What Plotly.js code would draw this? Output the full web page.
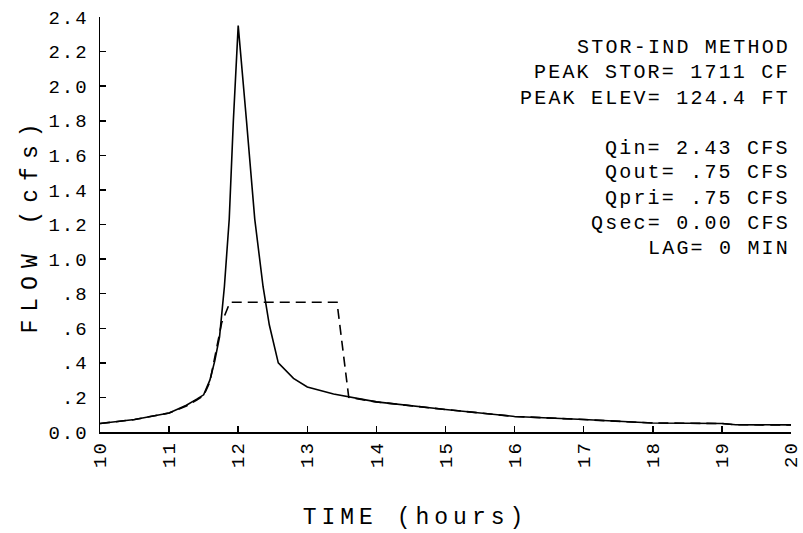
<!DOCTYPE html>
<html>
<head>
<meta charset="utf-8">
<script src="https://cdn.plot.ly/plotly-3.0.1.min.js"></script>
<style>
  html, body { margin: 0; padding: 0; background: #fff; }
  #chart { width: 803px; height: 533px; }
  .xtick text, .ytick text { letter-spacing: 2px; }
  .annotation-text { letter-spacing: 2.2px; }
  .xtitle { letter-spacing: 5px; transform: translate(-30px, 5px); }
  .ytitle { letter-spacing: 8px; }
</style>
</head>
<body>
<div id="chart"></div>
<script>
// Inflow hydrograph (solid)
const inflowTime = [10.0, 10.5, 11.0, 11.25, 11.4, 11.5, 11.59, 11.66, 11.73, 11.80, 11.87, 11.93, 12.0,
                    12.05, 12.12, 12.24, 12.36, 12.45, 12.58, 12.8, 13.0, 13.38, 13.8, 14.0,
                    15.0, 16.0, 17.0, 18.0, 19.0, 19.2, 20.0];
const inflowQ    = [0.049, 0.072, 0.11, 0.155, 0.19, 0.215, 0.30, 0.41, 0.55, 0.84, 1.23, 1.80, 2.35,
                    2.10, 1.80, 1.23, 0.84, 0.62, 0.40, 0.31, 0.26, 0.22, 0.19, 0.174,
                    0.13, 0.09, 0.072, 0.052, 0.049, 0.042, 0.041];
// Outflow hydrograph (dashed)
const outflowTime = [10.0, 10.5, 11.0, 11.25, 11.4, 11.5, 11.59, 11.70, 11.76, 11.88, 13.43, 13.60,
                     14.0, 15.0, 16.0, 17.0, 18.0, 19.0, 19.2, 20.0];
const outflowQ    = [0.049, 0.072, 0.11, 0.15, 0.185, 0.21, 0.29, 0.50, 0.63, 0.75, 0.75, 0.20,
                     0.174, 0.13, 0.09, 0.072, 0.052, 0.049, 0.042, 0.041];

const yTickVals = [0, 0.2, 0.4, 0.6, 0.8, 1.0, 1.2, 1.4, 1.6, 1.8, 2.0, 2.2, 2.4];
const yTickText = ["0.0", ".2", ".4", ".6", ".8", "1.0", "1.2", "1.4", "1.6", "1.8", "2.0", "2.2", "2.4"];
const xTickVals = [10, 11, 12, 13, 14, 15, 16, 17, 18, 19, 20];
const xTickText = ["10", "11", "12", "13", "14", "15", "16", "17", "18", "19", "20"];

const infoLines = ["STOR-IND METHOD", "PEAK STOR= 1711 CF", "PEAK ELEV= 124.4 FT", "",
                   "Qin= 2.43 CFS", "Qout= .75 CFS", "Qpri= .75 CFS", "Qsec= 0.00 CFS", "LAG= 0 MIN"];

const font = "Liberation Mono, DejaVu Sans Mono, monospace";

const traces = [
  { x: inflowTime, y: inflowQ, type: "scatter", mode: "lines", name: "Inflow",
    line: { color: "#000", width: 1.6 } },
  { x: outflowTime, y: outflowQ, type: "scatter", mode: "lines", name: "Outflow",
    line: { color: "#000", width: 1.6, dash: "10px,6px" } }
];

const plotLeft = 100, plotRight = 791;
const annotations = [];
infoLines.forEach((t, idx) => {
  if (t === "") return;
  annotations.push({
    xref: "paper", yref: "paper",
    x: (792 - plotLeft) / (plotRight - plotLeft), xanchor: "right",
    y: (432 - (48 + idx * 25)) / (432 - 17), yanchor: "middle",
    text: t, showarrow: false,
    font: { family: font, size: 20, color: "#000" }
  });
});

const layout = {
  width: 803, height: 533,
  margin: { l: plotLeft, r: 803 - plotRight, t: 17, b: 101 },
  paper_bgcolor: "#fff", plot_bgcolor: "#fff",
  showlegend: false,
  xaxis: {
    range: [10, 20], showgrid: false, zeroline: false,
    showline: true, linecolor: "#000", linewidth: 1.5,
    ticks: "inside", ticklen: 6, tickcolor: "#000", tickwidth: 1.5,
    tickvals: xTickVals, ticktext: xTickText, tickangle: -90,
    ticklabeloverflow: "allow",
    tickfont: { family: font, size: 19, color: "#000" },
    title: { text: "TIME (hours)", font: { family: font, size: 23, color: "#000" }, standoff: 36 }
  },
  yaxis: {
    range: [0, 2.4], showgrid: false, zeroline: false,
    showline: true, linecolor: "#000", linewidth: 1.5,
    ticks: "inside", ticklen: 6, tickcolor: "#000", tickwidth: 1.5,
    tickvals: yTickVals, ticktext: yTickText,
    tickfont: { family: font, size: 19, color: "#000" },
    ticklabelstandoff: 6,
    title: { text: "FLOW (cfs)", font: { family: font, size: 23, color: "#000" }, standoff: 4 }
  },
  annotations: annotations
};

Plotly.newPlot("chart", traces, layout, { staticPlot: true, displayModeBar: false });
</script>
</body>
</html>
